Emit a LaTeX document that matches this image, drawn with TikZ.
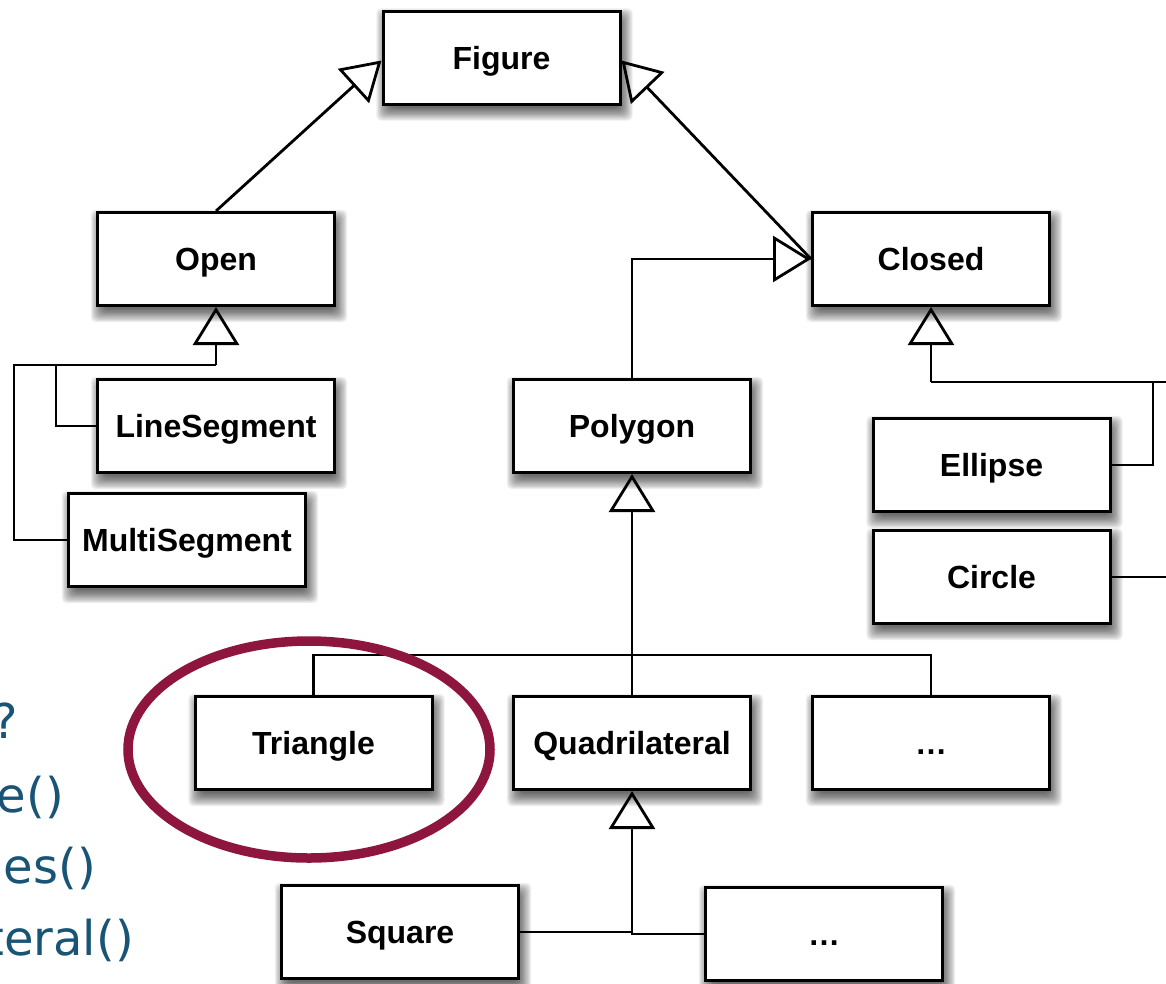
\documentclass[tikz,border=0pt]{standalone}
\usepackage{fontspec}
\setmainfont{Liberation Sans}
\newfontfamily\notefont{DejaVu Sans}
\usetikzlibrary{arrows.meta,calc}
\pgfdeclarelayer{background}
\pgfsetlayers{background,main}

\definecolor{notecol}{RGB}{24,84,118}
\definecolor{markcol}{RGB}{142,22,62}

\tikzset{
  classbox/.style={draw=black, line width=3pt, fill=white,
    minimum width=237pt, minimum height=93pt, inner sep=0pt,
    text height=23pt, text depth=0pt,
    font=\fontsize{32}{36}\selectfont\bfseries},
  link/.style={draw=black, line width=2.8pt},
  gen/.style={link, -{Triangle[open, length=38pt, width=46pt, line width=2.8pt]}},
  note/.style={anchor=base east, inner sep=0pt, text=notecol,
    font=\notefont\fontsize{48}{56}\selectfont},
}

% soft drop shadow under a class box, built from stacked translucent layers
\newcommand\boxshadow[1]{%
  \begin{pgfonlayer}{background}
    \foreach \k in {0,...,11}{
      \fill[black, opacity=0.065, rounded corners=5pt]
        ([shift={(8pt-1.2pt*\k, -2pt-1.2pt*\k)}]#1.south west) rectangle
        ([shift={(1.2pt*\k-2pt, 1.2pt*\k-12pt)}]#1.north east);
    }
  \end{pgfonlayer}}

\begin{document}
\begin{tikzpicture}[x=1pt, y=-1pt]
  \begin{pgfonlayer}{background}
    \fill[white] (0,0) rectangle (1166,983);
  \end{pgfonlayer}
  \useasboundingbox (0,0) rectangle (1166,983);

  % class boxes
  \node[classbox] (figure)   at (501.5, 57.5) {Figure};
  \node[classbox] (open)     at (216, 259)    {Open};
  \node[classbox] (closed)   at (931, 259)    {Closed};
  \node[classbox] (lineseg)  at (216, 426)    {LineSegment};
  \node[classbox] (multiseg) at (187, 540)    {MultiSegment};
  \node[classbox] (polygon)  at (632, 426)    {Polygon};
  \node[classbox] (ellipse)  at (991.5, 465)  {Ellipse};
  \node[classbox] (circle)   at (991.5, 577)  {Circle};
  \node[classbox] (triangle) at (313.5, 743)  {Triangle};
  \node[classbox] (quad)     at (632, 743)    {Quadrilateral};
  \node[classbox] (moreA)    at (931, 743)    {…};
  \node[classbox] (square)   at (400, 932)    {Square};
  \node[classbox] (moreB)    at (824, 934)    {…};

  \foreach \n in {figure,open,closed,lineseg,multiseg,polygon,ellipse,
                  circle,triangle,quad,moreA,square,moreB}{\boxshadow{\n}}

  % junction points of the inheritance trees
  \coordinate (oj) at (216, 365);
  \coordinate (ol) at (14, 365);
  \coordinate (om) at (56, 365);
  \coordinate (cj) at (931, 382);
  \coordinate (cm) at (1153, 382);
  \coordinate (cr) at (1170, 382);
  \coordinate (pj) at (632, 655);
  \coordinate (qj) at (632, 933);

  % Figure hierarchy
  \draw[gen] (open.north) -- ([yshift=-3pt]figure.west);
  \draw[gen] (closed.west) -- ([yshift=-3pt]figure.east);
  \draw[gen] (polygon.north) |- (closed.west);

  % Open subclasses
  \draw[gen] (oj) -- (open.south);
  \draw[link] (oj) -- (ol) |- (multiseg.west);
  \draw[link] (om) |- (lineseg.west);

  % Closed subclasses
  \draw[gen] (cj) -- (closed.south);
  \draw[link] (cj) -- (cr);
  \draw[link] (cm) |- (ellipse.east);
  \draw[link] (circle.east) -- (circle.east -| cr);

  % Polygon subclasses
  \draw[gen] (quad.north) -- (polygon.south);
  \draw[link] (triangle.north) |- (pj) -| (moreA.north);

  % Quadrilateral subclasses
  \draw[gen] (moreB.west) -| (quad.south);
  \draw[link] (square.east) -- (square.east -| qj);

  % highlight ring
  \draw[markcol, line width=9.5pt] (309, 749.5) ellipse [x radius=181, y radius=108.5];

  % side notes
  \node[note] (n1) at (18, 738) {?};
  \node[note] (n2) at (64, 812) {e()};
  \node[note] (n3) at (96, 883) {es()};
  \node[note] (n4) at (134, 955) {teral()};
\end{tikzpicture}
\end{document}
